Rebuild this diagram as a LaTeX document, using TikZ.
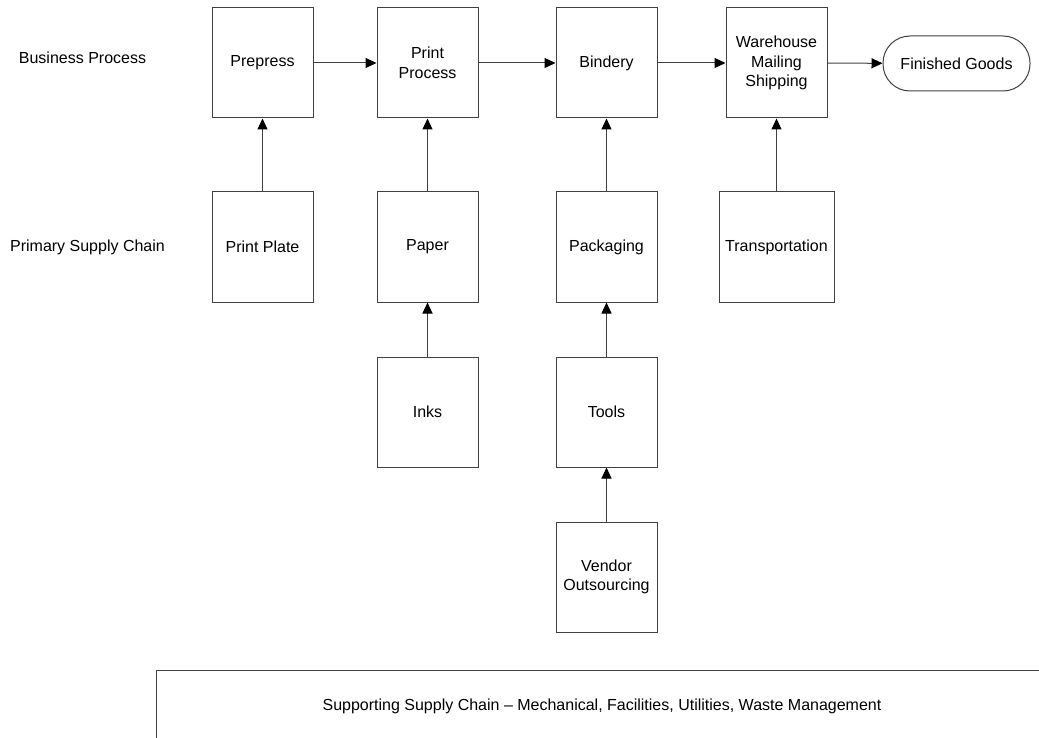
\documentclass[tikz,border=0pt]{standalone}
\usepackage{fontspec}
\setmainfont{Liberation Sans}
\usetikzlibrary{arrows.meta}
\definecolor{linegray}{HTML}{404040}
\tikzset{
  box/.style={draw=linegray,line width=1pt,minimum width=101pt,minimum height=110pt,align=center,inner sep=2pt},
  pill/.style={draw=linegray,line width=1pt,minimum width=147pt,minimum height=55pt,rounded corners=27pt},
  flow/.style={-{Triangle[length=11pt,width=10pt,color=black]},draw=linegray,line width=1pt}
}
\begin{document}
\begin{tikzpicture}[x=1pt,y=-1pt,font=\fontsize{16}{19.5}\selectfont]
\useasboundingbox (0,0) rectangle (1039,738);
% row labels
\node (bp) at (82.5,58) {Business Process};
\node (psc) at (87.5,247) {Primary Supply Chain};
% business process
\node [box] (prepress) at (262.5,63) {Prepress};
\node [box] (print) at (427.5,63) {Print\\Process};
\node [box] (bindery) at (606.5,63) {Bindery};
\node [box] (ware) at (776.5,63) {Warehouse\\Mailing\\Shipping};
\node [pill] (goods) at (956.5,63.5) {Finished Goods};
% primary supply chain
\node [box] (plate) at (262.5,247) {Print Plate};
\node [box] (paper) at (427.5,247) {Paper};
\node [box] (pack) at (606.5,247) {Packaging};
\node [box,minimum width=115pt] (trans) at (776.5,247) {Transportation};
\node [box] (inks) at (427.5,412) {Inks};
\node [box] (tools) at (606.5,412) {Tools};
\node [box] (vendor) at (606.5,577) {Vendor\\Outsourcing};
% arrows
\draw [flow] (prepress) -- (print);
\draw [flow] (print) -- (bindery);
\draw [flow] (bindery) -- (ware);
\draw [flow] (ware) -- (goods);
\draw [flow] (plate) -- (prepress);
\draw [flow] (paper) -- (print);
\draw [flow] (pack) -- (bindery);
\draw [flow] (trans) -- (ware);
\draw [flow] (inks) -- (paper);
\draw [flow] (tools) -- (pack);
\draw [flow] (vendor) -- (tools);
% supporting supply chain
\coordinate (sl) at (156,738);
\coordinate (sc) at (156,670);
\coordinate (sr) at (1039,670);
\draw [draw=linegray,line width=1pt] (sl) -- (sc) -- (sr);
\node (support) at (602,706) {Supporting Supply Chain – Mechanical, Facilities, Utilities, Waste Management};
\end{tikzpicture}
\end{document}
